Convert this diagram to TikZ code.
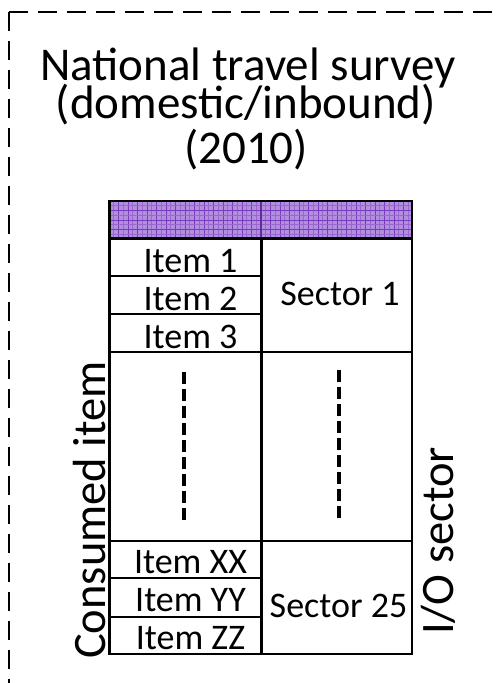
\documentclass[tikz,border=0pt]{standalone}
\usepackage{fontspec}
\setmainfont{Carlito}
\definecolor{hdrbase}{RGB}{178,142,222}
\definecolor{hdrline}{RGB}{122,58,188}
\definecolor{hdrfine}{RGB}{152,104,208}
\tikzset{
  frameline/.style={line width=1.8pt, dash pattern=on 19pt off 10pt},
  gapline/.style={line width=3.6pt, dash pattern=on 12pt off 5pt},
  cellrule/.style={line width=2pt},
  thickrule/.style={line width=3pt},
  titletext/.style={inner sep=0pt, anchor=base, font=\fontsize{47}{50}\selectfont},
  celltext/.style={inner sep=0pt, anchor=base, font=\fontsize{36}{40}\selectfont},
  sidetext/.style={inner sep=0pt, anchor=base, rotate=90, font=\fontsize{46.5}{50}\selectfont}
}
\begin{document}
\begin{tikzpicture}[x=1pt,y=-1pt]
\useasboundingbox (0,0) rectangle (496,683);
% dashed frame (runs off the right and bottom edges)
\coordinate (fc) at (9,12);
\coordinate (fr) at (510,12);
\coordinate (fb) at (9,700);
\draw[frameline] (fc) -- (fr);
\draw[frameline] (fc) -- (fb);
% title
\node[titletext] (t1) at (248,80) {National travel survey};
\node[titletext] (t2) at (246,118) {(domestic/inbound)};
\node[titletext] (t3) at (246,163) {(2010)};
% header row with pattern
\fill[hdrbase] (109,201) rectangle (412,238);
\begin{scope}
\clip (109,201) rectangle (412,238);
\foreach \x in {109,118.5,...,420} {
  \draw[hdrline, line width=1pt] (\x,195) -- (\x,245);
  \draw[hdrfine, line width=0.6pt] (\x+4.75,195) -- (\x+4.75,245);
}
\foreach \y in {201,210.5,...,245} {
  \draw[hdrline, line width=1pt] (100,\y) -- (420,\y);
  \draw[hdrfine, line width=0.6pt] (100,\y+4.75) -- (420,\y+4.75);
}
\end{scope}
\draw[hdrline!80!black, line width=2pt] (261,201) -- (261,238);
\draw[line width=1.5pt] (109,201) -- (412,201);
\draw[thickrule] (109,238) -- (412,238);
% table body
\draw[thickrule] (109,199.5) -- (109,655);
\draw[thickrule] (261,238) -- (261,655);
\draw[cellrule] (412,200) -- (412,655);
\draw[line width=2.5pt] (107.5,654) -- (413,654);
\foreach \y in {276,314,352,541,578,617} \draw[cellrule] (109,\y) -- (261,\y);
\draw[cellrule] (261,352) -- (412,352);
\draw[cellrule] (261,541) -- (412,541);
% cell texts
\node[celltext] (i1) at (190.5,272) {Item 1};
\node[celltext] (i2) at (190.5,310) {Item 2};
\node[celltext] (i3) at (190.5,348) {Item 3};
\node[celltext] (ixx) at (190.5,573) {Item XX};
\node[celltext] (iyy) at (190.5,611) {Item YY};
\node[celltext] (izz) at (190.5,649) {Item ZZ};
\node[celltext] (s1) at (340,305) {Sector 1};
\node[celltext] (s25) at (338.5,617) {Sector 25};
% gap dashes
\coordinate (ga) at (184,372);
\coordinate (gb) at (184,522);
\coordinate (gc) at (339,370);
\coordinate (gd) at (339,521);
\draw[gapline] (ga) -- (gb);
\draw[gapline] (gc) -- (gd);
% side labels
\node[sidetext] (ci) at (105,510) {Consumed item};
\node[sidetext] (io) at (453,541) {I/O sector};
\end{tikzpicture}
\end{document}
